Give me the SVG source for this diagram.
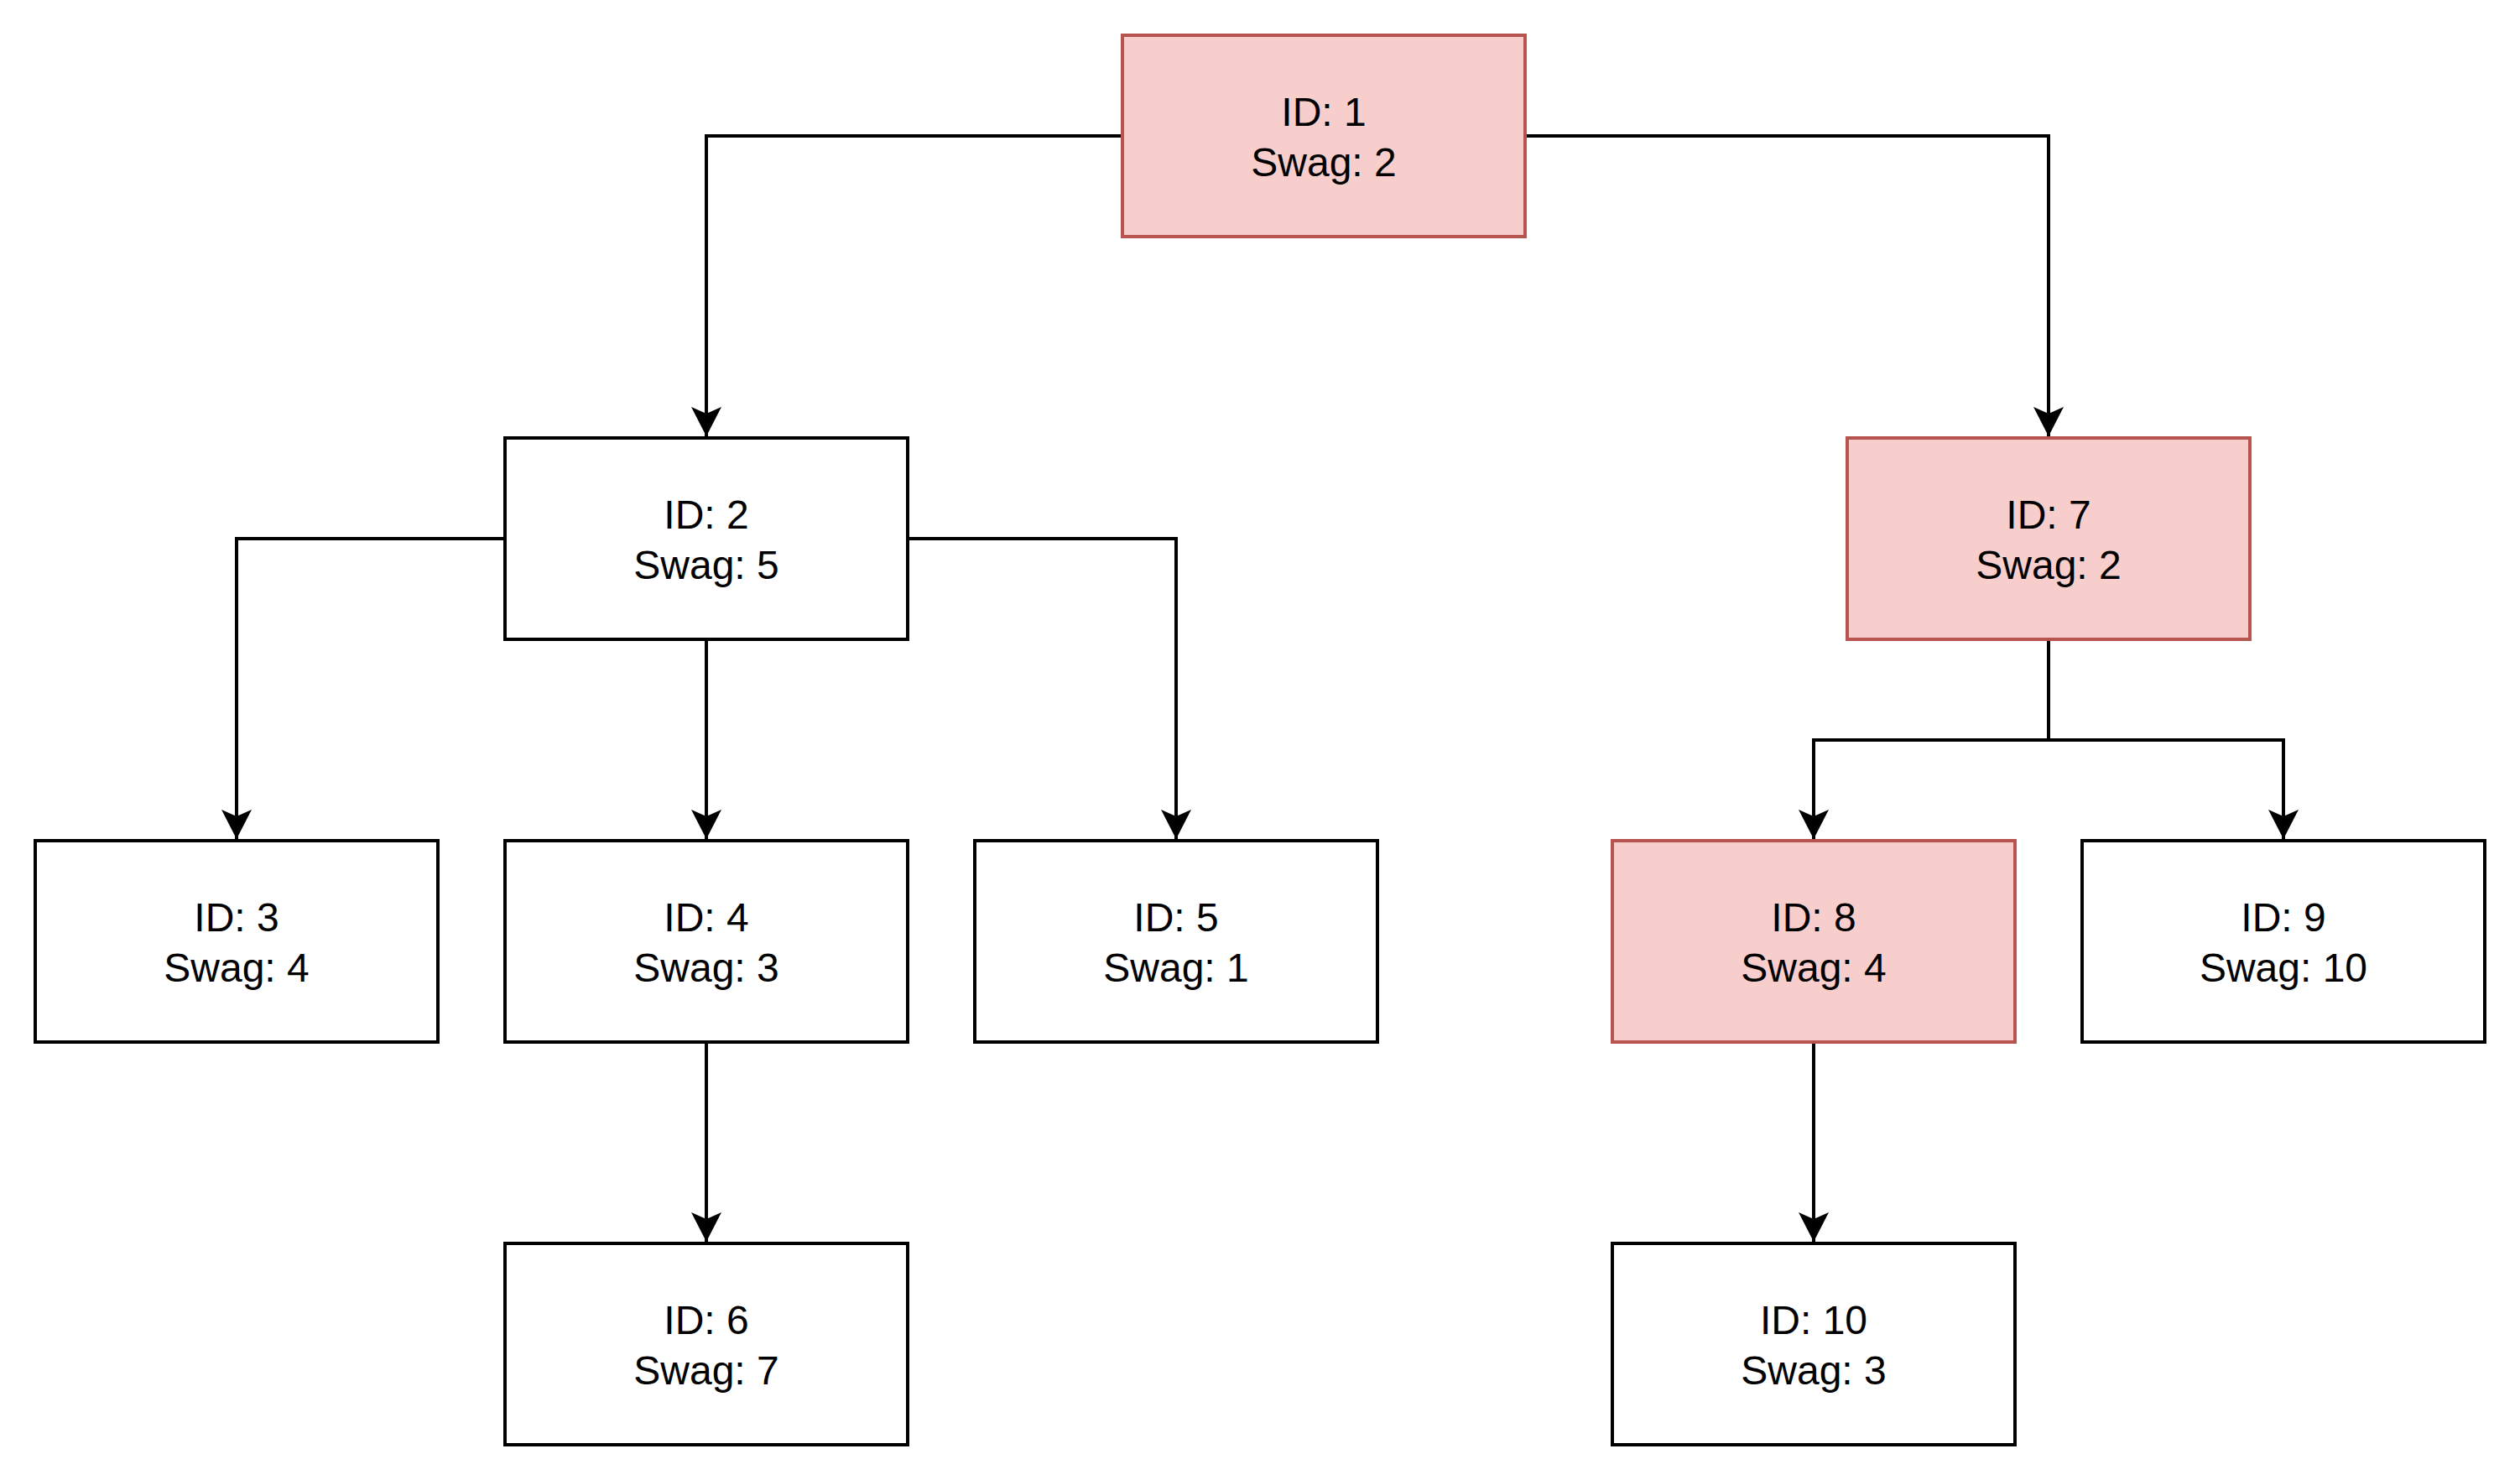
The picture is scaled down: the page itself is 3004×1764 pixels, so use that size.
<svg xmlns="http://www.w3.org/2000/svg" width="3004" height="1764" viewBox="0 0 3004 1764">
<defs>
<style>
.box{fill:#ffffff;stroke:#000000;stroke-width:4}
.red{fill:#f8cecc;stroke:#b85450;stroke-width:4}
.t{font-family:"Liberation Sans",Arial,Helvetica,sans-serif;font-size:48px;fill:#000000;text-anchor:middle}
.e{fill:none;stroke:#000000;stroke-width:4;marker-end:url(#arr)}
.l{fill:none;stroke:#000000;stroke-width:4}
</style>
<marker id="arr" markerUnits="userSpaceOnUse" markerWidth="40" markerHeight="40" viewBox="-36 -20 40 40" refX="0" refY="0" orient="auto" overflow="visible">
<path d="M0,0 L-35,-18 L-27,0 L-35,18 Z" fill="#000000"/>
</marker>
</defs>
<rect width="3004" height="1764" fill="#ffffff"/>
<g id="connectors">
<path class="e" d="M1338,162 H842 V520"/>
<path class="e" d="M1818,162 H2442 V520"/>
<path class="e" d="M602,642 H282 V1000"/>
<path class="e" d="M842,762 V1000"/>
<path class="e" d="M1082,642 H1402 V1000"/>
<path class="l" d="M2442,762 V882"/>
<path class="e" d="M2442,882 H2162 V1000"/>
<path class="e" d="M2442,882 H2722 V1000"/>
<path class="e" d="M842,1242 V1480"/>
<path class="e" d="M2162,1242 V1480"/>
</g>
<g id="n1"><rect class="red" x="1338" y="42" width="480" height="240"/><text class="t" x="1578" y="150">ID: 1</text><text class="t" x="1578" y="210">Swag: 2</text></g>
<g id="n2"><rect class="box" x="602" y="522" width="480" height="240"/><text class="t" x="842" y="630">ID: 2</text><text class="t" x="842" y="690">Swag: 5</text></g>
<g id="n7"><rect class="red" x="2202" y="522" width="480" height="240"/><text class="t" x="2442" y="630">ID: 7</text><text class="t" x="2442" y="690">Swag: 2</text></g>
<g id="n3"><rect class="box" x="42" y="1002" width="480" height="240"/><text class="t" x="282" y="1110">ID: 3</text><text class="t" x="282" y="1170">Swag: 4</text></g>
<g id="n4"><rect class="box" x="602" y="1002" width="480" height="240"/><text class="t" x="842" y="1110">ID: 4</text><text class="t" x="842" y="1170">Swag: 3</text></g>
<g id="n5"><rect class="box" x="1162" y="1002" width="480" height="240"/><text class="t" x="1402" y="1110">ID: 5</text><text class="t" x="1402" y="1170">Swag: 1</text></g>
<g id="n8"><rect class="red" x="1922" y="1002" width="480" height="240"/><text class="t" x="2162" y="1110">ID: 8</text><text class="t" x="2162" y="1170">Swag: 4</text></g>
<g id="n9"><rect class="box" x="2482" y="1002" width="480" height="240"/><text class="t" x="2722" y="1110">ID: 9</text><text class="t" x="2722" y="1170">Swag: 10</text></g>
<g id="n6"><rect class="box" x="602" y="1482" width="480" height="240"/><text class="t" x="842" y="1590">ID: 6</text><text class="t" x="842" y="1650">Swag: 7</text></g>
<g id="n10"><rect class="box" x="1922" y="1482" width="480" height="240"/><text class="t" x="2162" y="1590">ID: 10</text><text class="t" x="2162" y="1650">Swag: 3</text></g>
</svg>
